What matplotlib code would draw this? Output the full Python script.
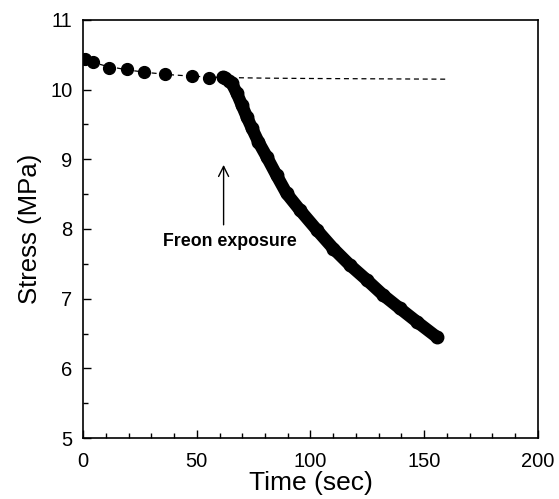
import matplotlib.pyplot as plt
from matplotlib.ticker import MultipleLocator

plt.rcParams['font.family'] = ['Liberation Sans', 'DejaVu Sans']

# readings before exposure (sparse dots)
t_before = [0.9, 4.5, 11.6, 19.2, 26.8, 36.2, 47.9, 55.4]
s_before = [10.44, 10.39, 10.31, 10.29, 10.26, 10.23, 10.19, 10.16]

# readings after freon exposure (dense dots)
t_after = [61.5, 62.4, 64.0, 65.4, 67.6, 69.8, 72.0, 74.2, 77.1, 80.7, 85.1, 89.5,
           95.4, 102.7, 110.0, 117.4, 124.7, 132.0, 139.3, 146.7, 155.5]
s_after = [10.18, 10.16, 10.13, 10.09, 9.95, 9.78, 9.61, 9.45, 9.25, 9.04, 8.77, 8.51,
           8.27, 7.99, 7.72, 7.48, 7.27, 7.05, 6.86, 6.67, 6.45]

# dashed extrapolation of the relaxation
t_fit = [0, 10, 20, 30, 40, 50, 60, 80, 100, 130, 160]
s_fit = [10.43, 10.34, 10.28, 10.24, 10.21, 10.19, 10.175, 10.165, 10.16, 10.155, 10.15]

fig = plt.figure(figsize=(5.59, 4.99), dpi=100)
ax = fig.add_axes([0.1485, 0.1222, 0.8139, 0.8378])

ax.plot(t_fit, s_fit, color='black', lw=0.9, ls=(0, (4, 3)))
ax.plot(t_before, s_before, 'o', color='black', ms=8.5)
ax.plot(t_after, s_after, '-', color='black', lw=9, solid_capstyle='round')
ax.plot(t_after, s_after, 'o', color='black', ms=9)

ax.annotate('', xy=(61.8, 8.96), xytext=(61.8, 8.02),
            arrowprops=dict(arrowstyle='->', color='black', lw=1, mutation_scale=18))
ax.text(64.6, 7.82, 'Freon exposure', fontsize=12.8, fontweight='bold',
        ha='center', va='center')

ax.set_xlim(0, 200)
ax.set_ylim(5, 11)
ax.xaxis.set_major_locator(MultipleLocator(50))
ax.xaxis.set_minor_locator(MultipleLocator(10))
ax.yaxis.set_major_locator(MultipleLocator(1))
ax.yaxis.set_minor_locator(MultipleLocator(0.5))
ax.tick_params(which='both', direction='in', labelsize=14.5, width=1)
ax.tick_params(which='major', length=6)
ax.tick_params(which='minor', length=3.5)
ax.tick_params(axis='x', which='major', pad=10)
ax.tick_params(axis='y', which='major', pad=7.5)
for sp in ax.spines.values():
    sp.set_linewidth(1.2)

ax.set_xlabel('Time (sec)', fontsize=19, labelpad=0)
ax.set_ylabel('Stress (MPa)', fontsize=18.5, labelpad=6)

fig.savefig('out.png', dpi=100)
